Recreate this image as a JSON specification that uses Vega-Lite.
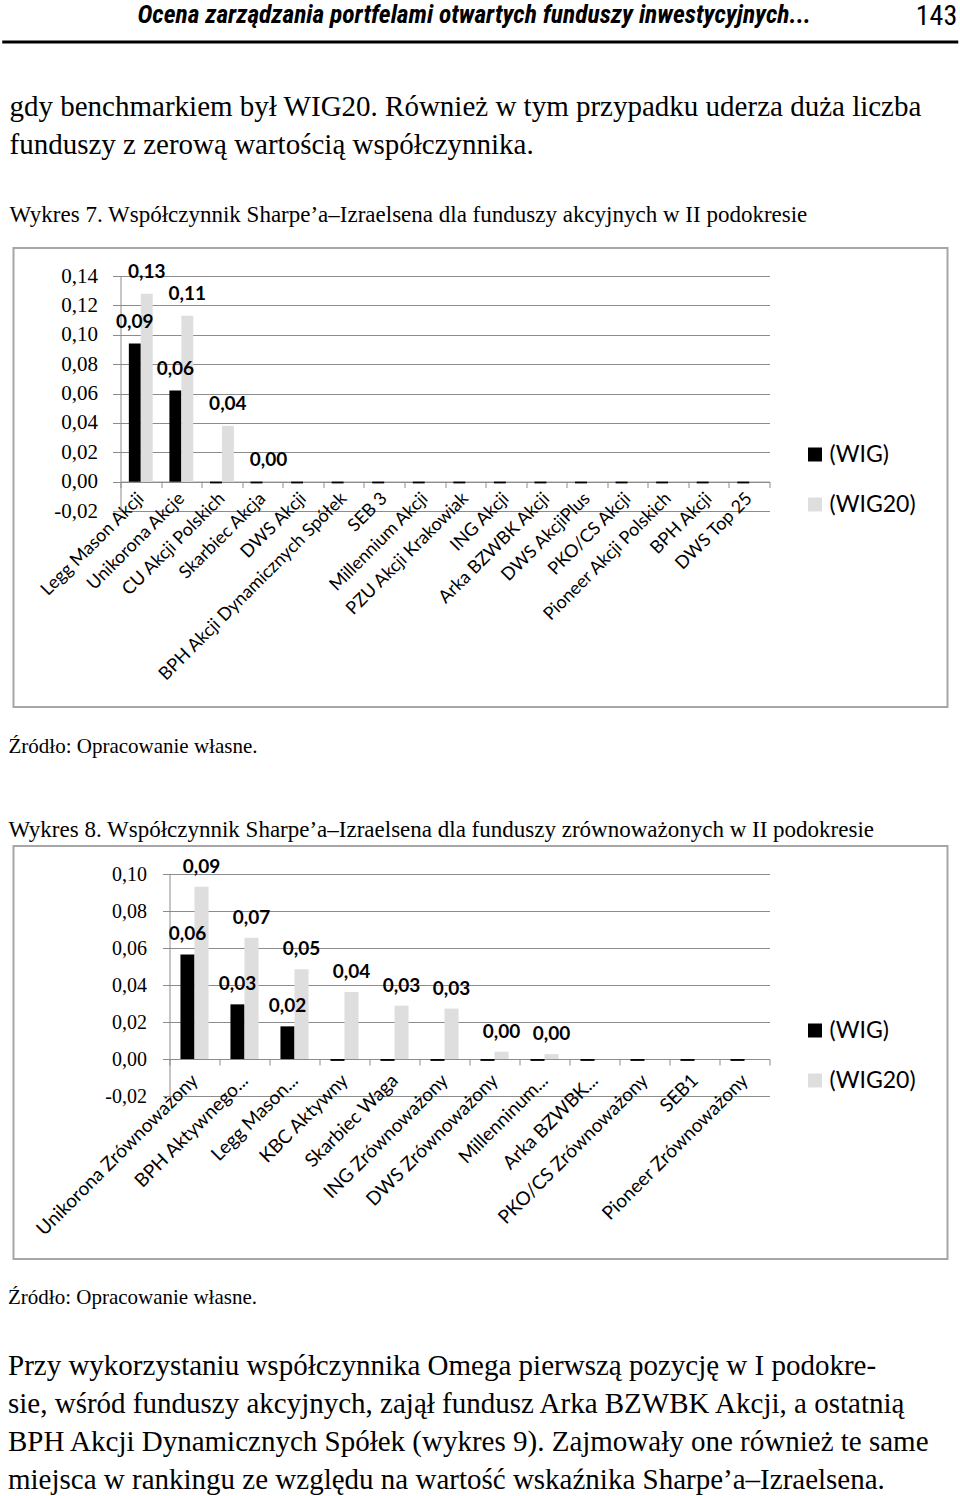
{
  "$schema": "https://vega.github.io/schema/vega-lite/v6.json",
  "background": "white",
  "padding": 0,
  "autosize": {"type": "pad"},
  "spacing": 27,
  "center": true,
  "resolve": {"scale": {"color": "independent", "x": "independent", "y": "independent", "xOffset": "independent"}, "legend": {"color": "independent"}},
  "config": {
    "view": {"stroke": null},
    "locale": {"number": {"decimal": ",", "thousands": " ", "grouping": [3], "currency": ["", ""], "minus": "-"}},
    "title": {"color": "black", "anchor": "start", "frame": "group", "subtitleColor": "black"}
  },
  "vconcat": [
    {
      "width": 956,
      "height": 65,
      "view": {"stroke": null, "fill": "white"},
      "data": {"values": [{"running": "Ocena zarządzania portfelami otwartych funduszy inwestycyjnych...", "page": "143"}]},
      "encoding": {"y": {"datum": 0, "type": "quantitative", "scale": {"domain": [0, 1], "range": [42, 0]}, "axis": null}},
      "layer": [
        {
          "mark": {"type": "rule", "color": "black", "strokeWidth": 3}
        },
        {
          "mark": {"type": "text", "font": "Roboto Condensed", "fontStyle": "italic", "fontWeight": "bold", "fontSize": 25.5, "align": "center", "baseline": "alphabetic", "dx": -6, "dy": -19, "color": "black"},
          "encoding": {"text": {"field": "running"}}
        },
        {
          "mark": {"type": "text", "font": "Roboto Condensed", "fontSize": 28, "align": "right", "baseline": "alphabetic", "x": "width", "dx": -1, "dy": -17, "color": "black"},
          "encoding": {"text": {"field": "page"}}
        }
      ]
    },
    {
      "width": 934,
      "height": 459,
      "view": {"stroke": "#a6a6a6", "strokeWidth": 2},
      "title": {
        "text": ["gdy benchmarkiem był WIG20. Również w tym przypadku uderza duża liczba", "funduszy z zerową wartością współczynnika."],
        "font": "Liberation Serif", "fontSize": 29, "fontWeight": "normal", "lineHeight": 38,
        "subtitle": "Wykres 7. Współczynnik Sharpe’a–Izraelsena dla funduszy akcyjnych w II podokresie",
        "subtitleFont": "Liberation Serif", "subtitleFontSize": 23, "subtitlePadding": 44,
        "offset": 21, "dx": -4
      },
      "data": {"values": [
        {"fund": "Legg Mason Akcji", "series": "(WIG)", "value": 0.094},
        {"fund": "Legg Mason Akcji", "series": "(WIG20)", "value": 0.128},
        {"fund": "Unikorona Akcje", "series": "(WIG)", "value": 0.062},
        {"fund": "Unikorona Akcje", "series": "(WIG20)", "value": 0.113},
        {"fund": "CU Akcji Polskich", "series": "(WIG)", "value": -0.0012},
        {"fund": "CU Akcji Polskich", "series": "(WIG20)", "value": 0.038},
        {"fund": "Skarbiec Akcja", "series": "(WIG)", "value": -0.0012},
        {"fund": "Skarbiec Akcja", "series": "(WIG20)", "value": 0.0},
        {"fund": "DWS Akcji", "series": "(WIG)", "value": -0.0012},
        {"fund": "BPH Akcji Dynamicznych Spółek", "series": "(WIG)", "value": -0.0012},
        {"fund": "SEB 3", "series": "(WIG)", "value": -0.0012},
        {"fund": "Millennium Akcji", "series": "(WIG)", "value": -0.0012},
        {"fund": "PZU Akcji Krakowiak", "series": "(WIG)", "value": -0.0012},
        {"fund": "ING Akcji", "series": "(WIG)", "value": -0.0012},
        {"fund": "Arka BZWBK Akcji", "series": "(WIG)", "value": -0.0012},
        {"fund": "DWS AkcjiPlus", "series": "(WIG)", "value": -0.0012},
        {"fund": "PKO/CS Akcji", "series": "(WIG)", "value": -0.0012},
        {"fund": "Pioneer Akcji Polskich", "series": "(WIG)", "value": -0.0012},
        {"fund": "BPH Akcji", "series": "(WIG)", "value": -0.0012},
        {"fund": "DWS Top 25", "series": "(WIG)", "value": -0.0012}
      ]},
      "encoding": {
        "x": {
          "field": "fund", "type": "nominal", "sort": null,
          "scale": {"range": [107, 756], "paddingInner": 0, "paddingOuter": 0},
          "axis": {"orient": "bottom", "offset": -225.4, "title": null, "labelAngle": -45, "labelAlign": "right", "labelBaseline": "middle", "tickBand": "extent", "tickSize": 6, "domainColor": "#8c8c8c", "tickColor": "#8c8c8c", "labelFont": "Lato", "labelFontSize": 18, "labelColor": "black", "labelPadding": 8, "labelLimit": 0, "labelOverlap": false}
        },
        "xOffset": {"field": "series", "type": "nominal", "sort": ["(WIG)", "(WIG20)"], "scale": {"paddingOuter": 0.7, "paddingInner": 0}},
        "y": {
          "field": "value", "type": "quantitative",
          "scale": {"domain": [-0.02, 0.14], "range": [263, 28], "nice": false, "zero": false},
          "axis": {"offset": -107, "values": [-0.02, 0, 0.02, 0.04, 0.06, 0.08, 0.1, 0.12, 0.14], "format": ".2f", "title": null, "grid": true, "gridColor": "#8c8c8c", "domainColor": "#8c8c8c", "tickColor": "#8c8c8c", "tickSize": 8, "labelPadding": 15, "labelFont": "Liberation Serif", "labelFontSize": 21, "labelColor": "black"}
        }
      },
      "layer": [
        {
          "mark": {"type": "bar"},
          "encoding": {
            "y2": {"datum": 0},
            "color": {"field": "series", "type": "nominal", "scale": {"domain": ["(WIG)", "(WIG20)"], "range": ["#000000", "#dedede"]},
              "legend": {"orient": "none", "legendX": 790, "legendY": 195, "title": null, "symbolType": "square", "symbolSize": 196, "symbolStrokeWidth": 0, "labelFont": "Lato", "labelFontSize": 23, "labelColor": "black", "rowPadding": 26, "labelOffset": 3}}
          }
        },
        {
          "transform": [{"filter": "datum.value >= 0"}],
          "mark": {"type": "text", "font": "Lato", "fontWeight": "bold", "fontSize": 19, "baseline": "alphabetic", "dy": -16, "color": "black"},
          "encoding": {"text": {"field": "value", "type": "quantitative", "format": ".2f"}}
        }
      ]
    },
    {
      "width": 934,
      "height": 413,
      "view": {"stroke": "#a6a6a6", "strokeWidth": 2},
      "title": {
        "text": "Źródło: Opracowanie własne.",
        "font": "Liberation Serif", "fontSize": 21, "fontWeight": "normal",
        "subtitle": "Wykres 8. Współczynnik Sharpe’a–Izraelsena dla funduszy zrównoważonych w II podokresie",
        "subtitleFont": "Liberation Serif", "subtitleFontSize": 23, "subtitlePadding": 62,
        "offset": 4, "dx": -5
      },
      "data": {"values": [
        {"fund": "Unikorona Zrównoważony", "series": "(WIG)", "value": 0.0566},
        {"fund": "Unikorona Zrównoważony", "series": "(WIG20)", "value": 0.0932},
        {"fund": "BPH Aktywnego...", "series": "(WIG)", "value": 0.0296},
        {"fund": "BPH Aktywnego...", "series": "(WIG20)", "value": 0.0657},
        {"fund": "Legg Mason...", "series": "(WIG)", "value": 0.0177},
        {"fund": "Legg Mason...", "series": "(WIG20)", "value": 0.0486},
        {"fund": "KBC Aktywny", "series": "(WIG)", "value": -0.001},
        {"fund": "KBC Aktywny", "series": "(WIG20)", "value": 0.0363},
        {"fund": "Skarbiec Waga", "series": "(WIG)", "value": -0.001},
        {"fund": "Skarbiec Waga", "series": "(WIG20)", "value": 0.0289},
        {"fund": "ING Zrównoważony", "series": "(WIG)", "value": -0.001},
        {"fund": "ING Zrównoważony", "series": "(WIG20)", "value": 0.0273},
        {"fund": "DWS Zrównoważony", "series": "(WIG)", "value": -0.001},
        {"fund": "DWS Zrównoważony", "series": "(WIG20)", "value": 0.004},
        {"fund": "Millenninum...", "series": "(WIG)", "value": -0.001},
        {"fund": "Millenninum...", "series": "(WIG20)", "value": 0.0027},
        {"fund": "Arka BZWBK...", "series": "(WIG)", "value": -0.001},
        {"fund": "PKO/CS Zrównoważony", "series": "(WIG)", "value": -0.001},
        {"fund": "SEB1", "series": "(WIG)", "value": -0.001},
        {"fund": "Pioneer Zrównoważony", "series": "(WIG)", "value": -0.001}
      ]},
      "encoding": {
        "x": {
          "field": "fund", "type": "nominal", "sort": null,
          "scale": {"range": [156, 756], "paddingInner": 0, "paddingOuter": 0},
          "axis": {"orient": "bottom", "offset": -200, "title": null, "labelAngle": -45, "labelAlign": "right", "labelBaseline": "middle", "tickBand": "extent", "tickSize": 6, "domainColor": "#8c8c8c", "tickColor": "#8c8c8c", "labelFont": "Lato", "labelFontSize": 19, "labelColor": "black", "labelPadding": 12, "labelLimit": 0, "labelOverlap": false}
        },
        "xOffset": {"field": "series", "type": "nominal", "sort": ["(WIG)", "(WIG20)"], "scale": {"paddingOuter": 0.78, "paddingInner": 0}},
        "y": {
          "field": "value", "type": "quantitative",
          "scale": {"domain": [-0.02, 0.1], "range": [250, 28.3], "nice": false, "zero": false},
          "axis": {"offset": -156, "values": [-0.02, 0, 0.02, 0.04, 0.06, 0.08, 0.1], "format": ".2f", "title": null, "grid": true, "gridColor": "#8c8c8c", "domainColor": "#8c8c8c", "tickColor": "#8c8c8c", "tickSize": 7, "labelPadding": 16, "labelFont": "Liberation Serif", "labelFontSize": 20, "labelColor": "black"}
        }
      },
      "layer": [
        {
          "mark": {"type": "bar"},
          "encoding": {
            "y2": {"datum": 0},
            "color": {"field": "series", "type": "nominal", "scale": {"domain": ["(WIG)", "(WIG20)"], "range": ["#000000", "#dedede"]},
              "legend": {"orient": "none", "legendX": 790, "legendY": 173, "title": null, "symbolType": "square", "symbolSize": 196, "symbolStrokeWidth": 0, "labelFont": "Lato", "labelFontSize": 23, "labelColor": "black", "rowPadding": 26, "labelOffset": 3}}
          }
        },
        {
          "transform": [{"filter": "datum.value >= 0"}],
          "mark": {"type": "text", "font": "Lato", "fontWeight": "bold", "fontSize": 19, "baseline": "alphabetic", "dy": -14, "color": "black"},
          "encoding": {"text": {"field": "value", "type": "quantitative", "format": ".2f"}}
        }
      ]
    },
    {
      "width": 956,
      "height": 1,
      "view": {"stroke": null},
      "title": {
        "text": "Źródło: Opracowanie własne.",
        "font": "Liberation Serif", "fontSize": 21, "fontWeight": "normal",
        "subtitle": ["\u00a0\u00a0\u00a0\u00a0\u00a0\u00a0\u00a0\u00a0Przy wykorzystaniu współczynnika Omega pierwszą pozycję w I podokre-", "sie, wśród funduszy akcyjnych, zajął fundusz Arka BZWBK Akcji, a ostatnią", "BPH Akcji Dynamicznych Spółek (wykres 9). Zajmowały one również te same", "miejsca w rankingu ze względu na wartość wskaźnika Sharpe’a–Izraelsena."],
        "subtitleFont": "Liberation Serif", "subtitleFontSize": 29, "subtitleLineHeight": 38, "subtitlePadding": 44,
        "offset": 0, "dx": 5
      },
      "data": {"values": []},
      "mark": {"type": "rule"},
      "encoding": {}
    }
  ]
}
